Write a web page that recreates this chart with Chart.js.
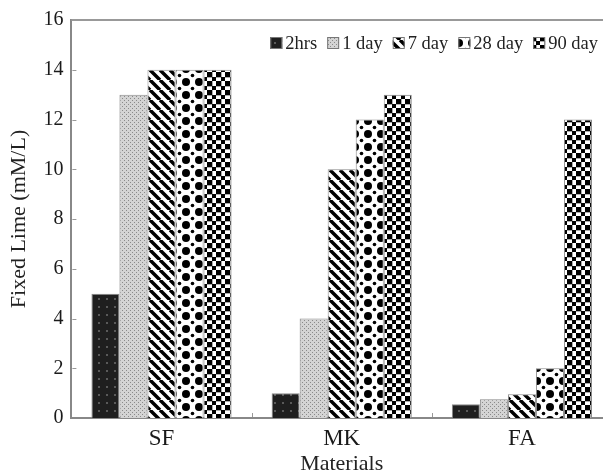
<!DOCTYPE html>
<html>
<head>
<meta charset="utf-8">
<script src="https://cdn.jsdelivr.net/npm/chart.js@4/dist/chart.umd.min.js"></script>
<style>
  html, body { margin: 0; padding: 0; background: #fff; overflow: hidden; }
  #wrap { width: 612px; height: 473px; }
</style>
</head>
<body>
<div id="wrap"><canvas id="chart" width="612" height="473"></canvas></div>
<script>
var materials = ['SF', 'MK', 'FA'];
var seriesNames = ['2hrs', '1 day', '7 day', '28 day', '90 day'];
var hrs2 = [5, 1, 0.55];
var day1 = [13, 4, 0.75];
var day7 = [14, 10, 0.95];
var day28 = [14, 12, 2];
var day90 = [14, 13, 12];
var yTicks = [0, 2, 4, 6, 8, 10, 12, 14, 16];

function makePattern(size, draw) {
    var c = document.createElement('canvas');
    c.width = size;
    c.height = size;
    var g = c.getContext('2d');
    draw(g, size);
    return document.getElementById('chart').getContext('2d').createPattern(c, 'repeat');
}

// dark with grey specks
var pDark = makePattern(8, function (g, s) {
    g.fillStyle = '#1f1f1f';
    g.fillRect(0, 0, s, s);
    g.fillStyle = '#5a5a5a';
    g.fillRect(2, 2, 2, 2);
});
// light grey stipple
var pLight = makePattern(4, function (g, s) {
    g.fillStyle = '#d4d4d4';
    g.fillRect(0, 0, s, s);
    g.fillStyle = '#8a8a8a';
    g.fillRect(0, 0, 1, 1);
    g.fillRect(2, 2, 1, 1);
});
// "\" stripes
var pStripe = makePattern(10, function (g, s) {
    g.fillStyle = '#fff';
    g.fillRect(0, 0, s, s);
    g.strokeStyle = '#000';
    g.lineWidth = 3.5;
    g.beginPath();
    for (var k = -1; k <= 1; k++) {
        g.moveTo(k * s, 0);
        g.lineTo(k * s + s, s);
    }
    g.stroke();
});
// big black dots
var pDots = makePattern(13, function (g, s) {
    g.fillStyle = '#fff';
    g.fillRect(0, 0, s, s);
    g.fillStyle = '#000';
    g.beginPath();
    g.arc(4, 4, 4, 0, Math.PI * 2);
    g.fill();
    g.beginPath();
    g.arc(10.5, 10.5, 1.8, 0, Math.PI * 2);
    g.fill();
});
// checkerboard
var pCheck = makePattern(9, function (g, s) {
    g.fillStyle = '#fff';
    g.fillRect(0, 0, s, s);
    g.fillStyle = '#000';
    g.fillRect(0, 0, 5, 5);
    g.fillRect(5, 5, 4, 4);
    g.fillStyle = '#aaa';
    g.fillRect(5, 0, 1, 5);
    g.fillRect(0, 5, 5, 1);
});

var fills = [pDark, pLight, pStripe, pDots, pCheck];
var values = [hrs2, day1, day7, day28, day90];

var datasets = seriesNames.map(function (name, i) {
    return {
        label: name,
        data: values[i],
        backgroundColor: fills[i],
        borderColor: '#888',
        borderWidth: 1,
        borderSkipped: 'bottom',
        barPercentage: 1,
        categoryPercentage: 140 / 180
    };
});

var serif = '"Liberation Serif", "DejaVu Serif", serif';

// small inward tick marks + top frame
var innerTicks = {
    id: 'innerTicks',
    afterDraw: function (chart) {
        var c = chart.ctx, a = chart.chartArea;
        var ys = chart.scales.y;
        c.save();
        c.strokeStyle = '#999';
        c.lineWidth = 1;
        c.beginPath();
        yTicks.forEach(function (v) {
            if (v === 0 || v === 16) return;
            var py = Math.round(ys.getPixelForValue(v)) + 0.5;
            c.moveTo(a.left + 1, py);
            c.lineTo(a.left + 5, py);
        });
        for (var k = 1; k < materials.length; k++) {
            var px = Math.round(a.left + (a.right - a.left) * k / materials.length) + 0.5;
            c.moveTo(px, a.bottom - 1);
            c.lineTo(px, a.bottom - 5);
        }
        c.stroke();
        c.strokeStyle = '#999';
        c.lineWidth = 2;
        c.beginPath();
        c.moveTo(a.left, a.top);
        c.lineTo(a.right, a.top);
        c.stroke();
        c.restore();
    }
};

// legend inside the plot, top right, in one row
var innerLegend = {
    id: 'innerLegend',
    afterDraw: function (chart) {
        var c = chart.ctx;
        var box = 12, gapText = 3, gapItem = 10;
        var yc = 43;
        c.save();
        c.font = '18.5px ' + serif;
        c.textBaseline = 'middle';
        var ds = chart.data.datasets;
        var total = 0;
        ds.forEach(function (d, i) {
            total += box + gapText + c.measureText(d.label).width;
            if (i < ds.length - 1) total += gapItem;
        });
        var x = 598 - total;
        ds.forEach(function (d) {
            c.fillStyle = d.backgroundColor;
            c.fillRect(x, yc - box / 2, box, box);
            c.strokeStyle = '#777';
            c.lineWidth = 1;
            c.strokeRect(x + 0.5, yc - box / 2 + 0.5, box - 1, box - 1);
            x += box + gapText;
            c.fillStyle = '#222';
            c.fillText(d.label, x, yc + 1);
            x += c.measureText(d.label).width + gapItem;
        });
        c.restore();
    }
};

var ctx = document.getElementById('chart').getContext('2d');
var chart = new Chart(ctx, {
    type: 'bar',
    data: {
        labels: materials,
        datasets: datasets
    },
    plugins: [innerTicks, innerLegend],
    options: {
        responsive: false,
        animation: false,
        layout: { padding: { top: 20, right: 0, left: 6, bottom: -2 } },
        plugins: {
            legend: { display: false },
            tooltip: { enabled: false }
        },
        scales: {
            x: {
                grid: { display: false, drawTicks: false },
                border: { color: '#888', width: 2 },
                ticks: {
                    color: '#1a1a1a',
                    padding: 9,
                    font: { family: serif, size: 23, lineHeight: 1 }
                },
                title: {
                    display: true,
                    text: 'Materials',
                    color: '#222',
                    padding: { top: -6, bottom: 0 },
                    font: { family: serif, size: 22, lineHeight: 1 }
                }
            },
            y: {
                min: 0,
                max: 16,
                afterBuildTicks: function (scale) {
                    scale.ticks = yTicks.map(function (v) { return { value: v }; });
                },
                grid: { display: false, drawTicks: false },
                border: { color: '#888', width: 2 },
                ticks: {
                    color: '#1a1a1a',
                    padding: 8,
                    font: { family: serif, size: 20 }
                },
                title: {
                    display: true,
                    text: 'Fixed Lime (mM/L)',
                    color: '#222',
                    padding: { top: 0, bottom: 3 },
                    font: { family: serif, size: 22 }
                }
            }
        }
    }
});
</script>
</body>
</html>
